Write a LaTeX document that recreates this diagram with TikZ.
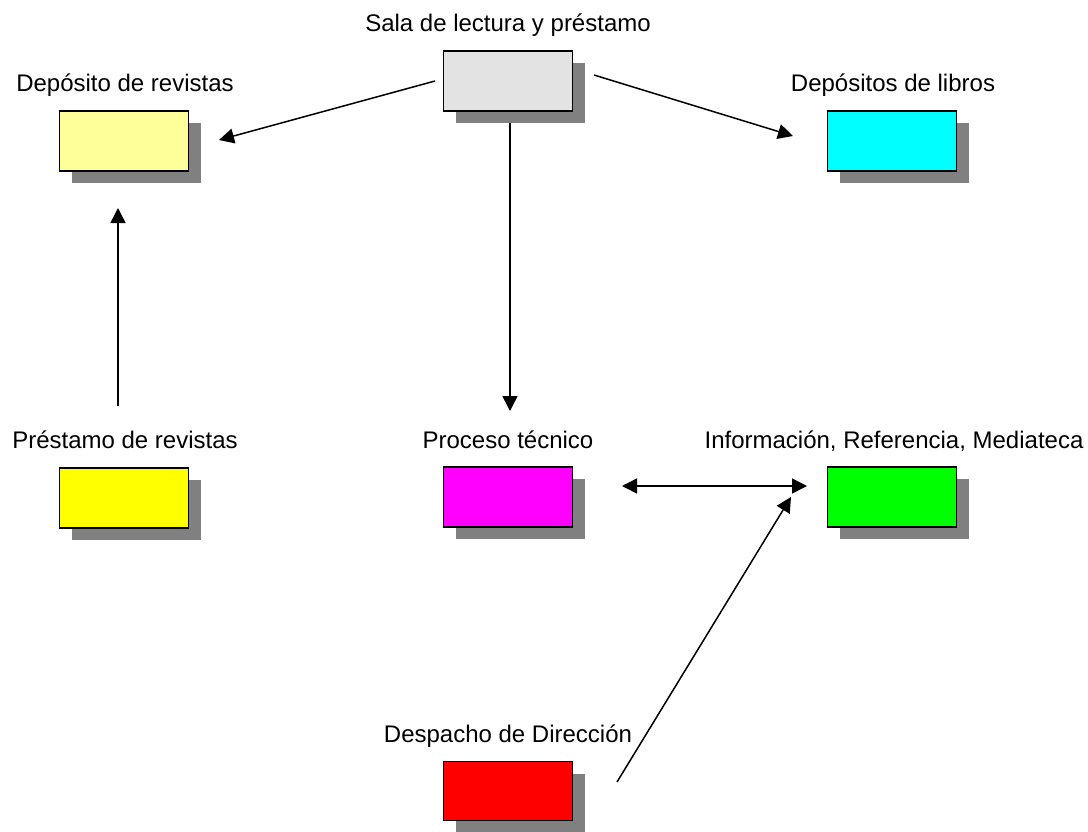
\documentclass[tikz,border=0pt]{standalone}
\usepackage{fontspec}
\setmainfont{Liberation Sans}
\usetikzlibrary{arrows.meta,shadows}
\definecolor{shadowgray}{HTML}{808080}
\definecolor{salagray}{HTML}{E3E3E3}
\definecolor{paleyellow}{HTML}{FFFF99}
\definecolor{rgbcyan}{HTML}{00FFFF}
\definecolor{rgbyellow}{HTML}{FFFF00}
\definecolor{rgbmagenta}{HTML}{FF00FF}
\definecolor{rgbgreen}{HTML}{00FF00}
\definecolor{rgbred}{HTML}{FF0000}
\tikzset{
  room/.style={draw=black, line width=1.5pt, minimum width=129pt, minimum height=60pt,
    inner sep=0pt, outer sep=0pt,
    drop shadow={shadow xshift=12pt, shadow yshift=-12pt, fill=shadowgray, opacity=1}},
  roomlabel/.style={anchor=base, inner sep=0pt, font=\fontsize{24}{28}\selectfont},
  link/.style={line width=1.5pt, -{Triangle[length=15pt,width=15pt]}},
  dlink/.style={line width=1.5pt, {Triangle[length=15pt,width=15pt]}-{Triangle[length=15pt,width=15pt]}}
}
\begin{document}
\begin{tikzpicture}[x=1pt,y=-1pt]
\useasboundingbox (0,0) rectangle (1088,831);
% boxes
\node[room, fill=salagray] (sala) at (508,81) {};
\node[room, fill=paleyellow] (deprev) at (124,141) {};
\node[room, fill=rgbcyan] (deplib) at (892,141) {};
\node[room, fill=rgbyellow] (presrev) at (124,498) {};
\node[room, fill=rgbmagenta] (proc) at (508,497) {};
\node[room, fill=rgbgreen] (info) at (892,497) {};
\node[room, fill=rgbred, minimum height=59pt] (desp) at (508,791) {};
% labels
\node[roomlabel] (lsala) at (508,31) {Sala de lectura y préstamo};
\node[roomlabel] (ldeprev) at (125,91) {Depósito de revistas};
\node[roomlabel] (ldeplib) at (893,91) {Depósitos de libros};
\node[roomlabel] (lpresrev) at (125,448) {Préstamo de revistas};
\node[roomlabel] (lproc) at (508,448) {Proceso técnico};
\node[roomlabel] (linfo) at (894,448) {Información, Referencia, Mediateca};
\node[roomlabel] (ldesp) at (508,742) {Despacho de Dirección};
% connector end points
\coordinate (a1) at (435,81);  \coordinate (a2) at (219,140);
\coordinate (b1) at (594,75);  \coordinate (b2) at (793,136);
\coordinate (c1) at (510,123); \coordinate (c2) at (510,411);
\coordinate (d1) at (118,406); \coordinate (d2) at (118,208);
\coordinate (e1) at (622,486); \coordinate (e2) at (807,486);
\coordinate (f1) at (617,782); \coordinate (f2) at (791,497);
% connectors
\draw[link] (a1) -- (a2);
\draw[link] (b1) -- (b2);
\draw[link] (c1) -- (c2);
\draw[link] (d1) -- (d2);
\draw[dlink] (e1) -- (e2);
\draw[link] (f1) -- (f2);
\end{tikzpicture}
\end{document}
